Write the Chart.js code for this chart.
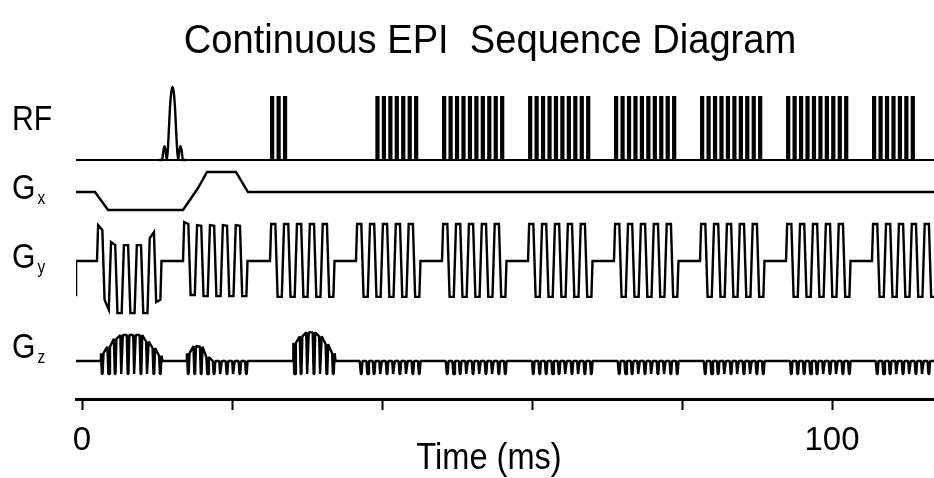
<!DOCTYPE html>
<html>
<head>
<meta charset="utf-8">
<title>Continuous EPI Sequence Diagram</title>
<script src="https://cdn.jsdelivr.net/npm/chart.js@4"></script>
<style>
  html, body { margin: 0; padding: 0; background: #fff; }
</style>
</head>
<body>
<canvas id="seqChart" width="934" height="478"></canvas>
<script>
// time axis (ms)
const tMin = -0.8;
const tMax = 113.6;
const tickValues = [0, 20, 40, 60, 80, 100];
const tickLabels = ['0', '', '', '', '', '100'];

// echo train: start of each readout block (ms) and lobe spacing
const blockStarts = [2.0, 13.47, 25.07, 36.53, 48.0, 59.47, 70.93, 82.4, 93.87, 105.33];
const lobeSpacing = 0.86;

// RF excitation pulse, sampled (ms, relative amplitude)
const rfPulseTimes = [10.27, 10.67, 10.87, 11.0, 11.13, 11.33, 11.53, 11.73, 11.91, 12.07, 12.23, 12.4, 12.6, 12.8, 13.0, 13.13, 13.27, 13.47, 13.87];
const rfPulseAmps  = [0, 0, 0.16, 0.22, 0.16, 0, 0.35, 0.83, 1.08, 1.16, 1.08, 0.83, 0.35, 0, 0.16, 0.22, 0.16, 0, 0];
// RF bars per block: lobe index range [from, to)
const rfBarFrom = [0, 0, 0, 3, 0, 0, 0, 0, 0, 0];
const rfBarTo   = [0, 0, 3, 10, 10, 10, 10, 10, 10, 7];

// Gx corner points
const gxTimes = [tMin, 1.73, 3.47, 13.47, 15.47, 16.67, 20.53, 22.13, tMax];
const gxAmps  = [0, 0, -1, -1, 0.22, 1.11, 1.11, 0, 0];

// Gy lobes, [start, end] amplitude of each flat top
const gyStartLevel = -0.92;
const gyFirst = [[0.97, 0.84], [-1.05, -1.32], [0.51, 0.43], [-1.41, -1.41], [0.43, 0.43],
                 [-1.41, -1.41], [0.43, 0.43], [-1.41, -1.41], [0.62, 0.78], [-1.11, -1.05]];
const gySecond = [[1.05, 1.0], [-0.92, -0.92], [0.97, 0.95], [-0.95, -0.95], [0.97, 0.95],
                  [-0.95, -0.95], [0.97, 0.95], [-0.95, -0.95], [0.97, 0.95], [-0.95, -0.95]];
const gyRegular = [[1, 1], [-0.97, -0.97], [1, 1], [-0.97, -0.97], [1, 1],
                   [-0.97, -0.97], [1, 1], [-0.97, -0.97], [1, 1], [-0.97, -0.97]];

// Gz: envelope under each blip (null = no blip), blip depth = -1
const gzFirst  = [0.6, 1.1, 1.7, 2.0, 2.0, 2.0, 2.0, 1.5, 1.0, 0.4];
const gzSecond = [0.6, 1.15, 1.1, 0.3, 0, 0, 0, 0, 0, 0];
const gzThird  = [null, null, null, 1.4, 1.9, 2.2, 2.2, 1.9, 1.3, 0.6];
const gzFlat   = [0, 0, 0, 0, 0, 0, 0, 0, 0, 0];

// row layout (y units are pixels above the time axis)
const rows = {
  rf: { base: 239, scale: 63 },
  gx: { base: 207, scale: 18 },
  gy: { base: 138, scale: 37 },
  gz: { base: 38, scale: 13 }
};
const ramp = 0.3;
const barWidth = 0.27;
const barOffset = 0.15;
const blipOffset = 0.7;

function lvl(row, a) { return rows[row].base + a * rows[row].scale; }

function rfPulsePoints() {
  return rfPulseTimes.map((t, i) => ({ x: t, y: lvl('rf', rfPulseAmps[i]) }));
}

function rfBarPoints() {
  const pts = [{ x: tMin, y: lvl('rf', 0) }];
  blockStarts.forEach((s, b) => {
    for (let k = rfBarFrom[b]; k < rfBarTo[b]; k++) {
      const t = s + barOffset + k * lobeSpacing;
      pts.push({ x: t, y: lvl('rf', 0) }, { x: t, y: lvl('rf', 1) },
               { x: t + barWidth, y: lvl('rf', 1) }, { x: t + barWidth, y: lvl('rf', 0) });
    }
  });
  pts.push({ x: tMax, y: lvl('rf', 0) });
  return pts;
}

function gxPoints() {
  return gxTimes.map((t, i) => ({ x: t, y: lvl('gx', gxAmps[i]) }));
}

function gyPoints() {
  const pts = [{ x: tMin, y: lvl('gy', gyStartLevel) }, { x: tMin + 0.01, y: lvl('gy', 0) }];
  blockStarts.forEach((s, b) => {
    const lobes = b === 0 ? gyFirst : b === 1 ? gySecond : gyRegular;
    pts.push({ x: s, y: lvl('gy', 0) });
    lobes.forEach((a, k) => {
      pts.push({ x: s + k * lobeSpacing + ramp / 2, y: lvl('gy', a[0]) });
      pts.push({ x: s + (k + 1) * lobeSpacing - ramp / 2, y: lvl('gy', a[1]) });
    });
    pts.push({ x: s + lobes.length * lobeSpacing, y: lvl('gy', 0) });
  });
  return pts;
}

function gzPoints() {
  const pts = [{ x: tMin, y: lvl('gz', 0) }];
  blockStarts.forEach((s, b) => {
    const env = b === 0 ? gzFirst : b === 1 ? gzSecond : b === 2 ? gzThird : gzFlat;
    const idx = env.map((e, k) => k).filter(k => env[k] !== null);
    const first = s + blipOffset + idx[0] * lobeSpacing;
    const last = s + blipOffset + idx[idx.length - 1] * lobeSpacing;
    pts.push({ x: first - 0.2, y: lvl('gz', 0) });
    idx.forEach(k => {
      const t = s + blipOffset + k * lobeSpacing;
      pts.push({ x: t - 0.17, y: lvl('gz', env[k]) }, { x: t - 0.05, y: lvl('gz', -1) },
               { x: t + 0.05, y: lvl('gz', -1) }, { x: t + 0.17, y: lvl('gz', env[k]) });
    });
    pts.push({ x: last + 0.3, y: lvl('gz', 0) });
  });
  return pts;
}

function trace(data, extra) {
  return Object.assign({
    data: data,
    borderColor: '#000',
    borderWidth: 2.4,
    pointRadius: 0,
    tension: 0,
    fill: false
  }, extra || {});
}

// text drawn slightly condensed: font size, horizontal squeeze
function putText(ctx, str, x, y, size, sx, align) {
  ctx.save();
  ctx.font = size + 'px "Liberation Sans"';
  ctx.textAlign = align;
  ctx.translate(x, y);
  ctx.scale(sx, 1);
  ctx.fillText(str, 0, 0);
  const w = ctx.measureText(str).width * sx;
  ctx.restore();
  return w;
}

// titles and row labels
const textLayer = {
  id: 'textLayer',
  afterDraw(chart) {
    const ctx = chart.ctx;
    ctx.save();
    ctx.fillStyle = '#000';
    ctx.textBaseline = 'alphabetic';
    putText(ctx, 'Continuous EPI  Sequence Diagram', 490, 53, 41, 0.93, 'center');
    putText(ctx, 'Time (ms)', 489, 469, 37, 0.88, 'center');

    const labels = [
      { main: 'RF', sub: '', y: 130 },
      { main: 'G', sub: 'x', y: 199 },
      { main: 'G', sub: 'y', y: 268 },
      { main: 'G', sub: 'z', y: 358 }
    ];
    labels.forEach(l => {
      const w = putText(ctx, l.main, 12, l.y, 35, 0.86, 'left');
      if (l.sub) putText(ctx, l.sub, 12 + w + 2, l.y + 5, 18, 0.86, 'left');
    });
    ctx.restore();
  }
};

const ctx = document.getElementById('seqChart').getContext('2d');
new Chart(ctx, {
  type: 'line',
  data: {
    datasets: [
      trace(rfPulsePoints(), { cubicInterpolationMode: 'monotone', tension: 0.4 }),
      trace(rfBarPoints(), { borderWidth: 2.2 }),
      trace(gxPoints()),
      trace(gyPoints()),
      trace(gzPoints(), { borderJoinStyle: 'bevel' })
    ]
  },
  options: {
    responsive: false,
    animation: false,
    devicePixelRatio: 1,
    layout: { padding: { left: 76, right: 0, top: 60, bottom: 0 } },
    scales: {
      x: {
        type: 'linear',
        min: tMin,
        max: tMax,
        afterBuildTicks: axis => { axis.ticks = tickValues.map(v => ({ value: v })); },
        afterFit: axis => { axis.height = 79; },
        border: { display: true, width: 3, color: '#000' },
        grid: { drawOnChartArea: false, drawTicks: true, tickLength: 11, tickWidth: 2, tickColor: '#000' },
        ticks: {
          callback: (v, i) => tickLabels[i],
          font: { family: 'Liberation Sans', size: 33 },
          color: '#000',
          padding: 11,
          maxRotation: 0,
          autoSkip: false
        }
      },
      y: { display: false, min: 0, max: 339 }
    },
    plugins: {
      legend: { display: false },
      tooltip: { enabled: false }
    }
  },
  plugins: [textLayer]
});
</script>
</body>
</html>
